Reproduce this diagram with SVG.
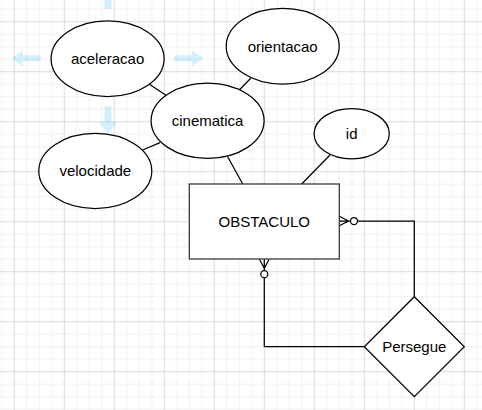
<svg xmlns="http://www.w3.org/2000/svg" width="482" height="410" viewBox="0 0 482 410">
  <defs>
    <pattern id="grid" patternUnits="userSpaceOnUse" x="13.8" y="21.2" width="50" height="50">
      <rect x="12.5" y="0" width="1" height="50" fill="#f1f1f1"/>
      <rect x="25" y="0" width="1" height="50" fill="#f1f1f1"/>
      <rect x="37.5" y="0" width="1" height="50" fill="#f1f1f1"/>
      <rect x="0" y="12.5" width="50" height="1" fill="#f1f1f1"/>
      <rect x="0" y="25" width="50" height="1" fill="#f1f1f1"/>
      <rect x="0" y="37.5" width="50" height="1" fill="#f1f1f1"/>
      <rect x="0" y="0" width="1" height="50" fill="#dcdcdc"/>
      <rect x="0" y="0" width="50" height="1" fill="#dcdcdc"/>
    </pattern>
    <style>
      .shape { fill: #ffffff; stroke: #000000; stroke-width: 1.25; }
      .lbl { font-family: "Liberation Sans", Arial, sans-serif; font-size: 15px; fill: #000000; text-anchor: middle; }
      .edge { fill: none; stroke: #000000; stroke-width: 1.25; }
      .hint { fill: #29b6f2; fill-opacity: 0.2; stroke: none; }
    </style>
  </defs>

  <rect x="0" y="0" width="482" height="410" fill="#ffffff"/>
  <rect x="0" y="0" width="482" height="410" fill="url(#grid)"/>

  <g id="hover-arrows">
    <path class="hint" d="M11.7,58.3 L23,50 L23,55.3 L40.7,55.3 L40.7,61.3 L23,61.3 L23,66.7 Z"/>
    <path class="hint" d="M203.3,58.3 L192,50 L192,55.3 L174.3,55.3 L174.3,61.3 L192,61.3 L192,66.7 Z"/>
    <path class="hint" d="M108,133.5 L99,122 L104.5,122 L104.5,106 L111.5,106 L111.5,122 L117,122 Z"/>
    <rect class="hint" x="104.5" y="0" width="7" height="9"/>
  </g>

  <g id="connectors">
    <line class="edge" x1="149" y1="84" x2="166.7" y2="95.7"/>
    <line class="edge" x1="142.7" y1="150" x2="160" y2="142.7"/>
    <line class="edge" x1="250.7" y1="78.3" x2="239.3" y2="90"/>
    <line class="edge" x1="227.7" y1="156.7" x2="242.7" y2="184"/>
    <line class="edge" x1="330" y1="155" x2="301.7" y2="184"/>
    <path class="edge" d="M414.3,296.7 L414.3,221 L357.6,221"/>
    <circle class="edge" cx="354" cy="221" r="3.5" fill="#ffffff" style="fill:#ffffff"/>
    <path class="edge" d="M350.5,221 L339.3,221 M339.3,216.2 L348.5,221 L339.3,225.8"/>
    <path class="edge" d="M364.3,346.7 L264.3,346.7 L264.3,277.7"/>
    <circle class="edge" cx="264.3" cy="274.2" r="3.5" style="fill:#ffffff"/>
    <path class="edge" d="M264.3,270.7 L264.3,259.3 M259.5,259.3 L264.3,268.5 L269.1,259.3"/>
  </g>

  <g id="aceleracao">
    <ellipse class="shape" cx="107.6" cy="58.7" rx="56.5" ry="37.8"/>
    <text class="lbl" x="107.6" y="64">aceleracao</text>
  </g>
  <g id="orientacao">
    <ellipse class="shape" cx="282.7" cy="46.2" rx="56.5" ry="37.8"/>
    <text class="lbl" x="282.7" y="51.5">orientacao</text>
  </g>
  <g id="cinematica">
    <ellipse class="shape" cx="207.6" cy="120.8" rx="56.5" ry="37.6"/>
    <text class="lbl" x="207.6" y="126.2">cinematica</text>
  </g>
  <g id="velocidade">
    <ellipse class="shape" cx="95.3" cy="171" rx="56.5" ry="37.6"/>
    <text class="lbl" x="95.3" y="176.3">velocidade</text>
  </g>
  <g id="id">
    <ellipse class="shape" cx="351.7" cy="133.7" rx="37.6" ry="25.2"/>
    <text class="lbl" x="351.7" y="139">id</text>
  </g>
  <g id="obstaculo">
    <rect class="shape" x="189.3" y="184" width="150" height="75" style="stroke:#333333"/>
    <text class="lbl" x="264.3" y="226.8">OBSTACULO</text>
  </g>
  <g id="persegue">
    <polygon class="shape" points="414.3,296.7 464.3,346.7 414.3,396.7 364.3,346.7"/>
    <text class="lbl" x="414.3" y="352">Persegue</text>
  </g>
</svg>
